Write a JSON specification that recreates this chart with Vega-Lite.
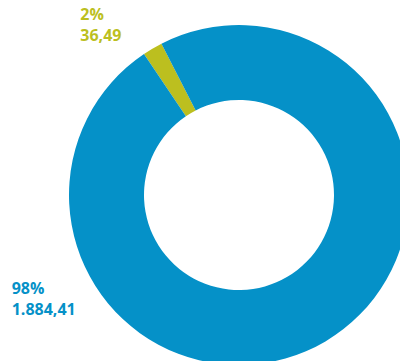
{
  "$schema": "https://vega.github.io/schema/vega-lite/v6.json",
  "width": 478,
  "height": 390,
  "padding": 0,
  "autosize": {"type": "none"},
  "background": "white",
  "config": {"view": {"stroke": null}},
  "data": {"values": [
    {"segment": "A", "value": 36.49, "pct": "2%", "amount": "36,49"},
    {"segment": "B", "value": 1884.41, "pct": "98%", "amount": "1.884,41"}
  ]},
  "transform": [{"calculate": "datum.pct + '\\n' + datum.amount", "as": "label"}],
  "encoding": {
    "theta": {"field": "value", "type": "quantitative", "stack": true, "scale": {"range": [-0.593, 5.690]}},
    "order": {"field": "segment", "type": "ordinal"},
    "color": {"field": "segment", "type": "nominal", "scale": {"domain": ["A", "B"], "range": ["#bcbf1f", "#0591c8"]}, "legend": null}
  },
  "layer": [
    {"mark": {"type": "arc", "innerRadius": 95, "outerRadius": 170}},
    {
      "mark": {"type": "text", "radius": 246, "thetaOffset": -0.168, "align": "left", "baseline": "top", "lineBreak": "\n", "fontSize": 16, "lineHeight": 21, "font": "Open Sans", "fontWeight": "bold"},
      "encoding": {"text": {"condition": {"test": "datum.segment == 'A'", "field": "label"}, "value": ""}}
    },
    {
      "mark": {"type": "text", "radius": 243, "thetaOffset": 1.743, "align": "left", "baseline": "top", "lineBreak": "\n", "fontSize": 16, "lineHeight": 21, "font": "Open Sans", "fontWeight": "bold"},
      "encoding": {"text": {"condition": {"test": "datum.segment == 'B'", "field": "label"}, "value": ""}}
    }
  ]
}
